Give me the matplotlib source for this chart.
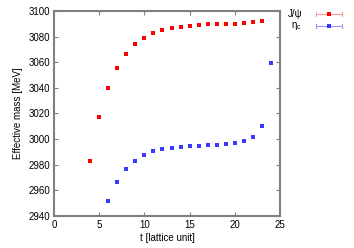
import matplotlib
matplotlib.use("Agg")
import matplotlib.pyplot as plt
from matplotlib.lines import Line2D

plt.rcParams['font.family'] = ['Liberation Sans', 'DejaVu Sans']

t_jpsi = [4, 5, 6, 7, 8, 9, 10, 11, 12, 13, 14, 15, 16, 17, 18, 19, 20, 21, 22, 23]
m_jpsi = [2983, 3017, 3040, 3055.5, 3066, 3074, 3079, 3082.5, 3085, 3086.5, 3087.5,
          3088.5, 3089, 3089.5, 3090, 3090, 3090, 3090.8, 3091, 3092.3]
t_etac = [6, 7, 8, 9, 10, 11, 12, 13, 14, 15, 16, 17, 18, 19, 20, 21, 22, 23, 24]
m_etac = [2952, 2966.5, 2976.5, 2983, 2987.5, 2990.5, 2992, 2993.3, 2994, 2994.8,
          2995, 2995.3, 2995.3, 2996, 2996.6, 2998.5, 3001.5, 3010, 3059.5]
labels = ['J/\u03c8', '\u03b7$_\\mathregular{c}$']
xticks = [0, 5, 10, 15, 20, 25]
yticks = [2940, 2960, 2980, 3000, 3020, 3040, 3060, 3080, 3100]

fig = plt.figure(figsize=(3.54, 2.48), dpi=100)
ax = fig.add_axes([0.1525, 0.129, 0.6385, 0.827])

ax.errorbar(t_jpsi, m_jpsi, yerr=0.3, fmt='s', color='#ff0000', ms=3.2,
            ecolor='#ff9999', elinewidth=0.8, capsize=1.5, mew=0)
ax.errorbar(t_etac, m_etac, yerr=0.3, fmt='s', color='#3a3aff', ms=3.2,
            ecolor='#9999ff', elinewidth=0.8, capsize=1.5, mew=0)

ax.set_xlim(0, 25)
ax.set_ylim(2940, 3100)
ax.set_xticks(xticks)
ax.set_yticks(yticks)
ax.tick_params(direction='in', top=True, right=True, labelsize=7, length=3,
               width=0.8, color='#808080', pad=3)
for s in ax.spines.values():
    s.set_color('#808080')
    s.set_linewidth(1.5)
ax.set_xlabel('t [lattice unit]', fontsize=7, labelpad=2)
ax.set_ylabel('Effective mass [MeV]', fontsize=7, labelpad=4)

# legend drawn in figure coords
for i, (lab, col, lc) in enumerate(zip(labels, ['#ff0000', '#3a3aff'], ['#ff9999', '#9999ff'])):
    ypx = 14 + i * 11.5
    yf = 1 - ypx / 248
    fig.text(302 / 354, yf, lab, ha='right', va='center', fontsize=7)
    fig.add_artist(Line2D([316 / 354, 342 / 354], [yf, yf], color=lc, lw=0.8))
    for xe in (316, 342):
        fig.add_artist(Line2D([xe / 354, xe / 354], [yf - 2 / 248, yf + 2 / 248], color=lc, lw=0.8))
    fig.add_artist(Line2D([329 / 354], [yf], marker='s', ms=3.2, color=col, mew=0))

fig.savefig('out.png', dpi=100)
